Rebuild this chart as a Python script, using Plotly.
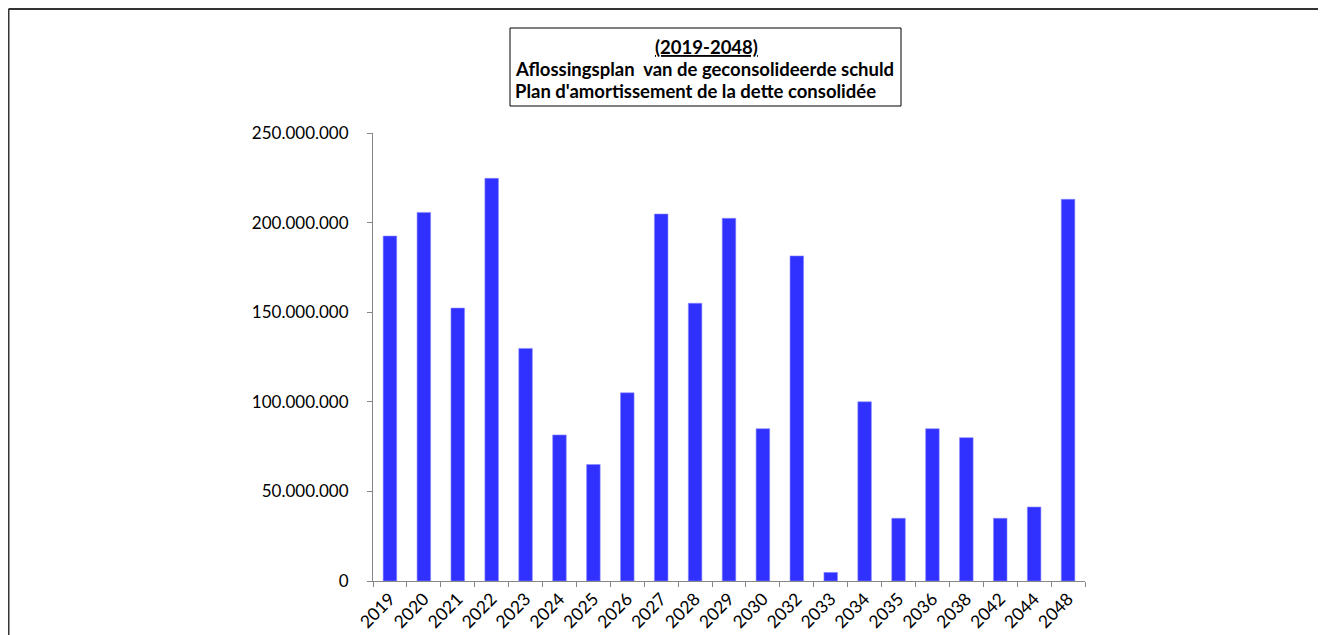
import plotly.graph_objects as go

years = ["2019", "2020", "2021", "2022", "2023", "2024", "2025", "2026", "2027", "2028",
         "2029", "2030", "2032", "2033", "2034", "2035", "2036", "2038", "2042", "2044", "2048"]
amounts = [192.5e6, 205.7e6, 152.3e6, 224.7e6, 129.8e6, 81.5e6, 65e6, 105e6, 204.8e6, 155e6,
           202.4e6, 85e6, 181.4e6, 4.8e6, 100e6, 35e6, 85e6, 80e6, 35e6, 41.3e6, 213e6]
ytick_vals = [0, 50e6, 100e6, 150e6, 200e6, 250e6]
title_lines = ["<u>(2019-2048)</u>",
               "Aflossingsplan  van de geconsolideerde schuld",
               "Plan d'amortissement de la dette consolidée"]

W, H = 1326, 635
L, R, T, B = 365, 249, 125, 62
PW, PH = W - L - R, H - T - B


def xp(px):
    return (px - L) / PW


def yp(py):
    return (H - B - py) / PH


FONT = "Lato, 'Open Sans', sans-serif"

fig = go.Figure()
fig.add_trace(go.Bar(
    x=years, y=amounts,
    marker=dict(color="#3030ff", line=dict(color="#8a8aff", width=0.6)),
    width=0.4,
))

shapes = [
    # outer frame pieces
    dict(type="line", xref="paper", yref="paper", x0=xp(0.5), x1=xp(1330), y0=yp(1), y1=yp(1),
         line=dict(color="#333333", width=2)),
    dict(type="line", xref="paper", yref="paper", x0=xp(0.5), x1=xp(0.5), y0=yp(1), y1=yp(640),
         line=dict(color="#333333", width=2)),
    dict(type="line", xref="paper", yref="paper", x0=xp(667), x1=xp(667), y0=yp(-10), y1=yp(1),
         line=dict(color="#333333", width=1.5)),
    # title box
    dict(type="rect", xref="paper", yref="paper", x0=xp(502), x1=xp(893), y0=yp(98), y1=yp(20),
         line=dict(color="#000000", width=1), fillcolor="white"),
]

annotations = []
for i, (txt, py) in enumerate(zip(title_lines, [39, 61, 83])):
    annotations.append(dict(
        text=f"<b>{txt}</b>", xref="paper", yref="paper", x=xp(698) if i == 0 else xp(505),
        y=yp(py), xanchor="center" if i == 0 else "left", yanchor="middle", showarrow=False,
        font=dict(family=FONT, size=18.5, color="#000000"),
    ))

fig.update_layout(
    width=W, height=H,
    margin=dict(l=L, r=R, t=T, b=B, pad=0),
    paper_bgcolor="white", plot_bgcolor="white",
    separators=",.",
    showlegend=False,
    shapes=shapes,
    annotations=annotations,
    font=dict(family=FONT, color="#000000"),
    xaxis=dict(
        type="category", tickson="boundaries", ticks="outside", ticklen=5, tickwidth=1,
        tickcolor="#868686", showline=True, linecolor="#868686", linewidth=1,
        showgrid=False, tickangle=-45, tickfont=dict(family=FONT, size=17.5, color="#000000"),
        zeroline=False,
    ),
    yaxis=dict(
        range=[0, 250e6], tickvals=ytick_vals, tickformat=",d", ticks="outside", ticklen=5,
        tickwidth=1, tickcolor="#868686", showline=True, linecolor="#868686", linewidth=1,
        showgrid=False, zeroline=False, tickfont=dict(family=FONT, size=17, color="#000000"),
        ticklabelstandoff=15,
    ),
)

fig.write_html("out.html")
